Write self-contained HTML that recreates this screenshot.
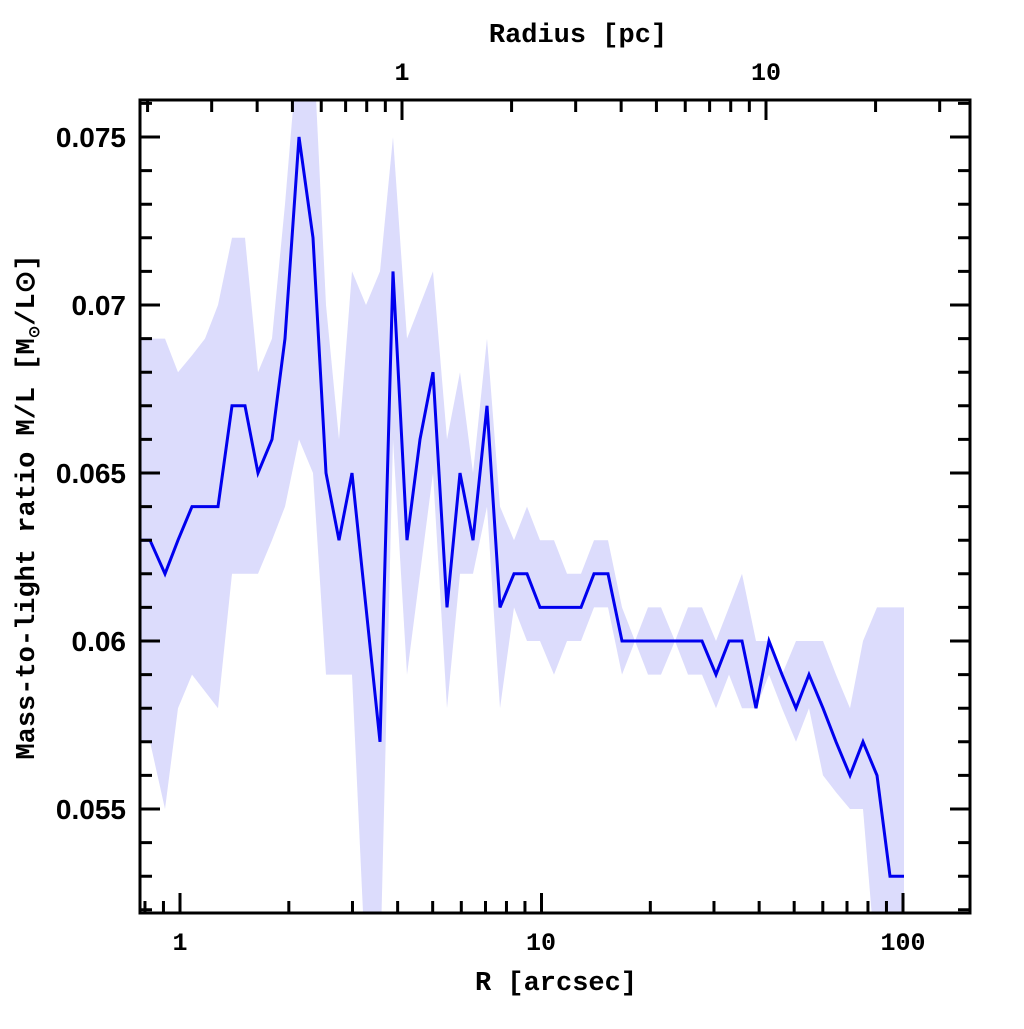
<!DOCTYPE html>
<html><head><meta charset="utf-8"><style>
html,body{margin:0;padding:0;background:#fff}
svg text{font-weight:bold;fill:#000}
.s{font-family:"Liberation Sans",sans-serif}
.m{font-family:"Liberation Mono",monospace}
</style></head><body>
<svg id="s" width="1024" height="1024" xmlns="http://www.w3.org/2000/svg">
<defs><clipPath id="c"><rect x="140" y="100" width="830" height="813"/></clipPath></defs>
<g id="band" clip-path="url(#c)"></g>
<g id="ticks"></g>
<rect x="140" y="100" width="830" height="813" fill="none" stroke="#000" stroke-width="3"/>
<g font-size="28" text-anchor="end" class="s">
<text x="126" y="147">0.075</text>
<text x="126" y="315">0.07</text>
<text x="126" y="483">0.065</text>
<text x="126" y="651">0.06</text>
<text x="126" y="819">0.055</text>
</g>
<g font-size="25" text-anchor="middle" class="m">
<text x="180" y="950">1</text>
<text x="541" y="950">10</text>
<text x="903" y="950">100</text>
<text x="402" y="80">1</text>
<text x="766" y="80">10</text>
<text x="556" y="990" font-size="27">R [arcsec]</text>
<text x="578" y="42" font-size="27">Radius [pc]</text>
<text transform="translate(34,507) rotate(-90)" font-size="27">Mass-to-light ratio M/L [M<tspan font-size="15" dy="5">⊙</tspan><tspan dy="-5">/L⊙]</tspan></text>
</g>
</svg>
<script>
const NS="http://www.w3.org/2000/svg";
const Y=v=>137+(0.075-v)*33600;
const xs=[140,150,165,178,192,205,218,232,245,258,272,285,299,313,326,339,352,366,380,393,407,420,433,447,460,473,487,500,514,527,540,554,567,581,594,608,622,635,648,661,675,688,702,716,729,742,756,769,782,796,809,823,836,850,863,877,890,904];
const line=[.063,.063,.062,.063,.064,.064,.064,.067,.067,.065,.066,.069,.075,.072,.065,.063,.065,.061,.057,.071,.063,.066,.068,.061,.065,.063,.067,.061,.062,.062,.061,.061,.061,.061,.062,.062,.060,.060,.060,.060,.060,.060,.060,.059,.060,.060,.058,.060,.059,.058,.059,.058,.057,.056,.057,.056,.053,.053];
const up=[.069,.069,.069,.068,.0685,.069,.070,.072,.072,.068,.069,.073,.078,.078,.070,.066,.071,.070,.071,.075,.069,.070,.071,.066,.068,.065,.069,.064,.063,.064,.063,.063,.062,.062,.063,.063,.061,.060,.061,.061,.060,.061,.061,.060,.061,.062,.060,.060,.059,.060,.060,.060,.059,.058,.060,.061,.061,.061];
const lo=[.057,.057,.055,.058,.059,.0585,.058,.062,.062,.062,.063,.064,.066,.065,.059,.059,.059,.050,.050,.066,.059,.062,.065,.058,.062,.062,.064,.058,.061,.060,.060,.059,.060,.060,.061,.061,.059,.060,.059,.059,.060,.059,.059,.058,.059,.058,.058,.059,.058,.057,.058,.056,.0555,.055,.055,.050,.050,.050];
let p="M"+xs.map((x,i)=>x+","+Y(up[i])).join("L");
for(let i=xs.length-1;i>=0;i--)p+="L"+xs[i]+","+Y(lo[i]);
let b=document.createElementNS(NS,"path");b.setAttribute("d",p+"Z");b.setAttribute("fill","#dcdcfc");
document.getElementById("band").appendChild(b);
let l=document.createElementNS(NS,"polyline");l.setAttribute("points",xs.map((x,i)=>x+","+Y(line[i])).join(" "));
l.setAttribute("fill","none");l.setAttribute("stroke","#0000ee");l.setAttribute("stroke-width","3");
document.getElementById("band").appendChild(l);
let t="";
const add=(x1,y1,x2,y2)=>t+=`M${x1},${y1}L${x2},${y2}`;
for(let k=0;k<=24;k++){let v=0.052+k*0.001;let y=Y(v);if(y<100||y>913)continue;let big=Math.abs((v*1000)%5)<0.01||Math.abs((v*1000)%5-5)<0.01;let L=big?20:12;add(140,y,140+L,y);add(970,y,970-L,y);}
for(let e=-1;e<=2;e++)for(let m=1;m<10;m++){let x=180+361.5*(e+Math.log10(m));if(x<142||x>968)continue;let L=m==1?20:12;add(x,913,x,913-L);}
for(let e=-1;e<=1;e++)for(let m=1;m<10;m++){let x=402+364*(e+Math.log10(m));if(x<142||x>968)continue;let L=m==1?20:12;add(x,100,x,100+L);}
let tp=document.createElementNS(NS,"path");tp.setAttribute("d",t);tp.setAttribute("stroke","#000");tp.setAttribute("stroke-width","3");
document.getElementById("ticks").appendChild(tp);
</script>
</body></html>
